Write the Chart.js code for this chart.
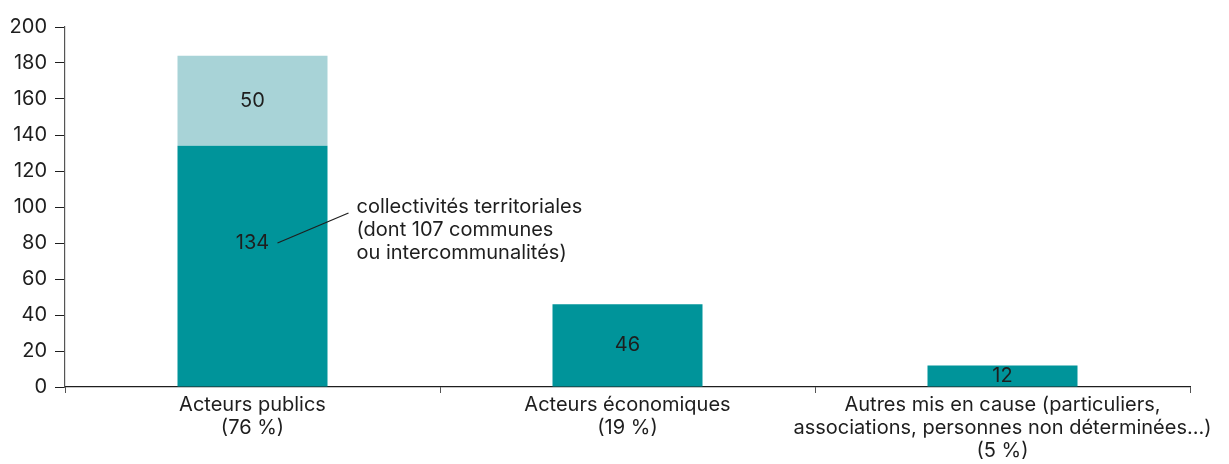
<!DOCTYPE html>
<html lang="fr">
<head>
<meta charset="utf-8">
<title>Mis en cause</title>
<script src="https://cdn.jsdelivr.net/npm/chart.js@4.4.1/dist/chart.umd.min.js"></script>
<style>
  html, body { margin: 0; padding: 0; background: #fff; }
  .wrap { width: 1229px; height: 464px; position: relative; }
</style>
</head>
<body>
<div class="wrap"><canvas id="chart"></canvas></div>
<script>
// Categories (multi-line labels)
const categories = [
  ['Acteurs publics', '(76 %)'],
  ['Acteurs économiques', '(19 %)'],
  ['Autres mis en cause (particuliers,', 'associations, personnes non déterminées…)', '(5 %)']
];
// Series values
const collectivites = [134, 46, 12];
const autresPublics = [50, 0, 0];
// Y axis
const yMax = 200;
const yStep = 20;
// Annotation text
const noteLines = ['collectivités territoriales', '(dont 107 communes', 'ou intercommunalités)'];

const FONT = 'Inter, "Open Sans", sans-serif';
const TEXT = '#1e1e1e';
const SIZE = 20;

// Value labels inside bars + annotation
const barLabels = {
  id: 'barLabels',
  afterDatasetsDraw(chart) {
    const ctx = chart.ctx;
    const y = chart.scales.y;
    ctx.save();
    ctx.font = SIZE + 'px ' + FONT;
    ctx.fillStyle = TEXT;
    ctx.textAlign = 'center';
    ctx.textBaseline = 'middle';
    let anchor = null;
    chart.data.datasets.forEach((ds, di) => {
      const meta = chart.getDatasetMeta(di);
      meta.data.forEach((bar, i) => {
        const v = ds.data[i];
        if (!v) return;
        let ly = (bar.y + bar.base) / 2;
        if (di === 0 && i === 0) {
          // first bar label is lifted to leave room for the callout
          ly = y.getPixelForValue(80);
          anchor = { x: bar.x, y: ly };
        }
        ctx.fillText(String(v), bar.x, ly);
      });
    });
    if (anchor) {
      ctx.strokeStyle = TEXT;
      ctx.lineWidth = 1.2;
      ctx.beginPath();
      ctx.moveTo(anchor.x + 25, anchor.y);
      ctx.lineTo(anchor.x + 96, anchor.y - 30);
      ctx.stroke();
      ctx.textAlign = 'left';
      noteLines.forEach((t, k) => {
        ctx.fillText(t, anchor.x + 104, anchor.y - 36 + k * 23);
      });
    }
    ctx.restore();
  }
};

new Chart(document.getElementById('chart'), {
  type: 'bar',
  data: {
    labels: categories,
    datasets: [{
      data: collectivites,
      backgroundColor: '#00949A',
      categoryPercentage: 0.4,
      barPercentage: 1
    }, {
      data: autresPublics,
      backgroundColor: '#A8D3D7',
      categoryPercentage: 0.4,
      barPercentage: 1
    }]
  },
  options: {
    responsive: true,
    maintainAspectRatio: false,
    animation: false,
    layout: { padding: { top: 27, right: 39, left: 0, bottom: 0 } },
    plugins: {
      legend: { display: false },
      tooltip: { enabled: false }
    },
    scales: {
      x: {
        stacked: true,
        afterFit(scale) { scale.height = 77; },
        border: { display: true, color: '#1e1e1e', width: 1.2 },
        grid: {
          offset: true,
          drawOnChartArea: false,
          drawTicks: true,
          tickLength: 6,
          color: '#555'
        },
        ticks: {
          color: TEXT,
          font: { size: SIZE, family: FONT, lineHeight: '23px' },
          padding: 0,
          autoSkip: false,
          maxRotation: 0
        }
      },
      y: {
        stacked: true,
        min: 0,
        max: yMax,
        afterFit(scale) { scale.width = 65; },
        border: { display: true, color: '#555', width: 1.2 },
        grid: {
          drawOnChartArea: false,
          drawTicks: true,
          tickLength: 10,
          color: '#1e1e1e'
        },
        ticks: {
          stepSize: yStep,
          color: TEXT,
          font: { size: SIZE, family: FONT },
          padding: 8
        }
      }
    }
  },
  plugins: [barLabels]
});
</script>
</body>
</html>
